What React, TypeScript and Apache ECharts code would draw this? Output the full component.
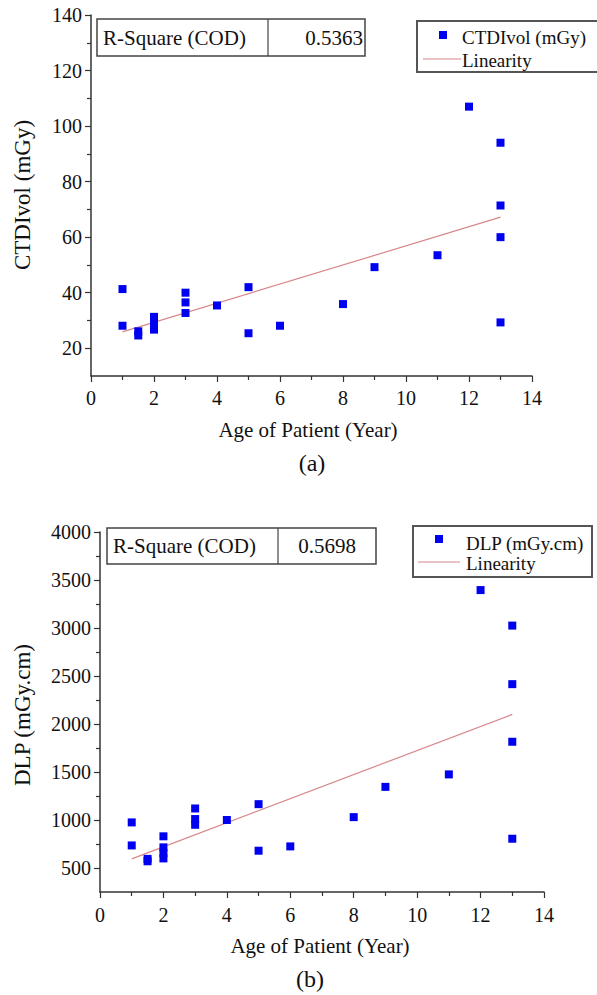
import React, { useEffect, useRef } from "react";
import * as echarts from "echarts";

// ---- Data (a): CTDIvol vs age ----
const ageA = [1, 1, 1.5, 1.5, 2, 2, 2, 2, 3, 3, 3, 4, 5, 5, 6, 8, 9, 11, 12, 13, 13, 13, 13];
const ctdiVol = [41.3, 28.1, 26.1, 24.6, 31.3, 29.7, 28.0, 26.7, 40.0, 36.5, 32.7, 35.4, 42.0, 25.4, 28.1, 35.9, 49.2, 53.5, 107.0, 94.0, 71.4, 60.0, 29.3];
const fitA = [[1, 25.9], [13, 67.2]];
const r2A = "0.5363";

// ---- Data (b): DLP vs age ----
const ageB = [1, 1, 1.5, 1.5, 2, 2, 2, 2, 3, 3, 3, 4, 5, 5, 6, 8, 9, 11, 12, 13, 13, 13, 13];
const dlp = [975, 735, 595, 570, 830, 715, 655, 600, 1120, 1010, 950, 1000, 1165, 680, 725, 1030, 1345, 1475, 3395, 3025, 2415, 1815, 805];
const fitB = [[1, 595], [13, 2100]];
const r2B = "0.5698";

// ---- Tick labels ----
const yMajorA = [20, 40, 60, 80, 100, 120, 140];
const yMinorA = [30, 50, 70, 90, 110, 130];
const yMajorB = [500, 1000, 1500, 2000, 2500, 3000, 3500, 4000];
const yMinorB = [750, 1250, 1750, 2250, 2750, 3250, 3750];

const FONT = '"Liberation Serif", "Times New Roman", serif';
const AXIS = "#333";
const BLUE = "#0000f0";
const FITC = "#d8868a";
const TXT = "#111";

export default function App() {
  const ref = useRef<HTMLDivElement>(null);
  useEffect(() => {
    if (!ref.current) return;
    const chart = echarts.init(ref.current, undefined, { renderer: "svg" });

    const xAx = (gridIndex: number) => ({
      type: "value",
      gridIndex,
      min: 0,
      max: 14,
      interval: 2,
      axisLine: { show: true, lineStyle: { color: AXIS, width: 1.5 } },
      axisTick: { show: true, inside: false, length: 6, lineStyle: { color: AXIS, width: 1.2 } },
      minorTick: { show: true, splitNumber: 2, length: 4, lineStyle: { color: AXIS, width: 1.2 } },
      axisLabel: {
        fontFamily: FONT,
        fontSize: 20,
        color: TXT,
        margin: gridIndex === 0 ? 12 : 13,
        formatter: (v: number) => String(v),
      },
      splitLine: { show: false },
      minorSplitLine: { show: false },
    });

    const yMajor = (gridIndex: number, min: number, max: number, vals: number[]) => ({
      type: "value",
      gridIndex,
      min,
      max,
      position: "left",
      axisLine: { show: true, onZero: false, lineStyle: { color: AXIS, width: 1.5 } },
      axisTick: { show: true, length: 6, customValues: vals, lineStyle: { color: AXIS, width: 1.2 } },
      axisLabel: {
        fontFamily: FONT,
        fontSize: 20,
        color: TXT,
        margin: 9,
        customValues: vals,
        formatter: (v: number) => String(v),
      },
      splitLine: { show: false },
    });
    const yMinor = (gridIndex: number, min: number, max: number, vals: number[]) => ({
      type: "value",
      gridIndex,
      min,
      max,
      position: "left",
      axisLine: { show: false },
      axisTick: { show: true, length: 4, customValues: vals, lineStyle: { color: AXIS, width: 1.2 } },
      axisLabel: { show: false },
      splitLine: { show: false },
    });

    const txt = (text: string, x: number, y: number, size: number, align = "left", rotation = 0) => ({
      type: "text",
      x,
      y,
      rotation,
      z: 10,
      style: { text, fontFamily: FONT, fontSize: size, fill: TXT, align, verticalAlign: "middle" },
    });
    const rect = (x: number, y: number, w: number, h: number, lw = 1.5, stroke = "#444") => ({
      type: "rect",
      z: 9,
      shape: { x, y, width: w, height: h },
      style: { fill: "#fff", stroke, lineWidth: lw },
    });
    const line = (x1: number, y1: number, x2: number, y2: number, color: string, lw = 1.5) => ({
      type: "line",
      z: 10,
      shape: { x1, y1, x2, y2 },
      style: { stroke: color, lineWidth: lw },
    });
    const square = (cx: number, cy: number) => ({
      type: "rect",
      z: 10,
      shape: { x: cx - 4, y: cy - 4, width: 8, height: 8 },
      style: { fill: BLUE },
    });

    chart.setOption({
      animation: false,
      backgroundColor: "#fff",
      grid: [
        { left: 91, top: 15, width: 441, height: 361 },
        { left: 100, top: 532, width: 444, height: 360 },
      ],
      xAxis: [xAx(0), xAx(1)],
      yAxis: [
        yMajor(0, 10, 140, yMajorA),
        yMinor(0, 10, 140, yMinorA),
        yMajor(1, 250, 4000, yMajorB),
        yMinor(1, 250, 4000, yMinorB),
      ],
      series: [
        {
          type: "line",
          xAxisIndex: 0,
          yAxisIndex: 0,
          data: fitA,
          showSymbol: false,
          lineStyle: { color: FITC, width: 1.2 },
          z: 2,
        },
        {
          type: "scatter",
          xAxisIndex: 0,
          yAxisIndex: 0,
          symbol: "rect",
          symbolSize: 8,
          itemStyle: { color: BLUE, opacity: 1 },
          data: ageA.map((a, i) => [a, ctdiVol[i]]),
          z: 3,
        },
        {
          type: "line",
          xAxisIndex: 1,
          yAxisIndex: 2,
          data: fitB,
          showSymbol: false,
          lineStyle: { color: FITC, width: 1.2 },
          z: 2,
        },
        {
          type: "scatter",
          xAxisIndex: 1,
          yAxisIndex: 2,
          symbol: "rect",
          symbolSize: 8,
          itemStyle: { color: BLUE, opacity: 1 },
          data: ageB.map((a, i) => [a, dlp[i]]),
          z: 3,
        },
      ],
      graphic: [
        // Panel (a)
        rect(97, 19, 268, 37),
        line(268, 19, 268, 56, "#444", 1.2),
        txt("R-Square (COD)", 103, 38, 21),
        txt(r2A, 363, 38, 21, "right"),
        rect(417, 21, 220, 51, 2, "#555"),
        square(443, 35),
        txt("CTDIvol (mGy)", 462, 37, 19),
        line(423, 59, 461, 59, FITC, 1.2),
        txt("Linearity", 462, 60, 19),
        txt("CTDIvol (mGy)", 22, 195, 23, "center", Math.PI / 2),
        txt("Age of Patient (Year)", 308, 430, 21, "center"),
        txt("(a)", 312, 463, 24, "center"),
        // Panel (b)
        rect(107, 528, 269, 36),
        line(278, 528, 278, 564, "#444", 1.2),
        txt("R-Square (COD)", 113, 546, 21),
        txt(r2B, 327, 546, 21, "center"),
        rect(413, 526, 179, 51, 2, "#555"),
        square(439, 539),
        txt("DLP (mGy.cm)", 466, 543, 19),
        line(418, 562, 460, 562, FITC, 1.2),
        txt("Linearity", 466, 563, 19),
        txt("DLP (mGy.cm)", 22, 715, 23, "center", Math.PI / 2),
        txt("Age of Patient (Year)", 320, 946, 21, "center"),
        txt("(b)", 310, 979, 24, "center"),
      ],
    });
    return () => chart.dispose();
  }, []);

  return (
    <div
      ref={ref}
      style={{ position: "fixed", left: 0, top: 0, width: 597, height: 995, background: "#fff" }}
    />
  );
}
